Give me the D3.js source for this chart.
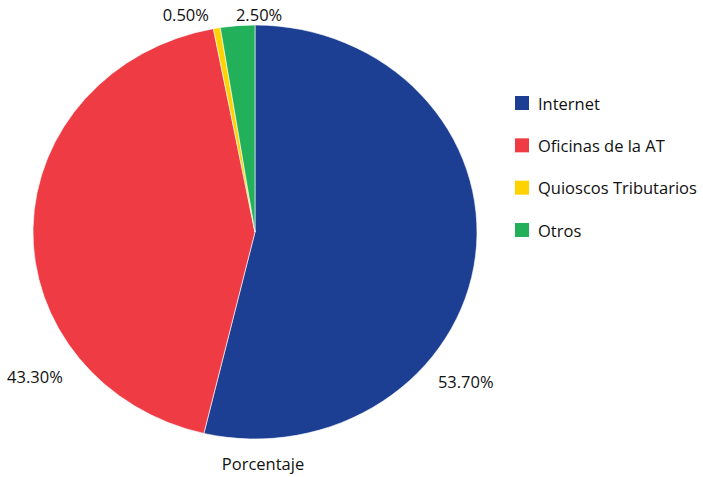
<!DOCTYPE html>
<html>
<head>
<meta charset="utf-8">
<script src="https://cdn.jsdelivr.net/npm/d3@7"></script>
<style>
  html, body { margin: 0; padding: 0; background: #fff; }
  svg { display: block; }
  text { font-family: "Open Sans", "Noto Sans", sans-serif; fill: #111111; }
</style>
</head>
<body>
<svg id="chart" width="703" height="477"></svg>
<script>
// Canales de atención (porcentaje)
const categories = ["Internet", "Oficinas de la AT", "Quioscos Tributarios", "Otros"];
const values = [53.7, 43.3, 0.5, 2.5];
const valueLabels = ["53.70%", "43.30%", "0.50%", "2.50%"];
const colors = ["#1c3f94", "#ee3b44", "#ffd200", "#22b15a"];
const axisTitle = "Porcentaje";

const svg = d3.select("#chart");

// Pie geometry: drawn as a slightly flattened ellipse
const cx = 255, cy = 232, rx = 222, ry = 207;
const r = 100;

const pie = d3.pie().sort(null).value(d => d)(values);
const arc = d3.arc().innerRadius(0).outerRadius(r);

const g = svg.append("g")
  .attr("transform", `translate(${cx},${cy}) scale(${rx / r},${ry / r})`);

g.selectAll("path")
  .data(pie)
  .join("path")
  .attr("d", arc)
  .attr("fill", (d, i) => colors[i])
  .attr("stroke", "#ffffff")
  .attr("stroke-width", 0.6)
  .attr("vector-effect", "non-scaling-stroke");

// Value labels placed around the ellipse (angle in degrees clockwise from top, radial factor)
const labelPlacement = [[127.2, 1.192], [234.8, 1.213], [343.5, 1.098], [1.0, 1.053]];
svg.selectAll("text.value")
  .data(pie)
  .join("text")
  .attr("class", "value")
  .attr("x", (d, i) => cx + rx * labelPlacement[i][1] * Math.sin(labelPlacement[i][0] * Math.PI / 180))
  .attr("y", (d, i) => cy - ry * labelPlacement[i][1] * Math.cos(labelPlacement[i][0] * Math.PI / 180))
  .attr("text-anchor", "middle")
  .attr("dominant-baseline", "central")
  .attr("font-size", 16.5)
  .text((d, i) => valueLabels[i]);

// Title under the pie
svg.append("text")
  .attr("x", 263)
  .attr("y", 470)
  .attr("text-anchor", "middle")
  .attr("font-size", 16.5)
  .text(axisTitle);

// Legend
const legendY = d3.scalePoint().domain(categories).range([103, 230]);
const legend = svg.append("g");
const items = legend.selectAll("g")
  .data(categories)
  .join("g")
  .attr("transform", d => `translate(515,${legendY(d)})`);
items.append("rect")
  .attr("x", 0).attr("y", -7)
  .attr("width", 14).attr("height", 14)
  .attr("fill", (d, i) => colors[i]);
items.append("text")
  .attr("x", 23).attr("y", 0)
  .attr("dominant-baseline", "central")
  .attr("font-size", 16.5)
  .text(d => d);
</script>
</body>
</html>
